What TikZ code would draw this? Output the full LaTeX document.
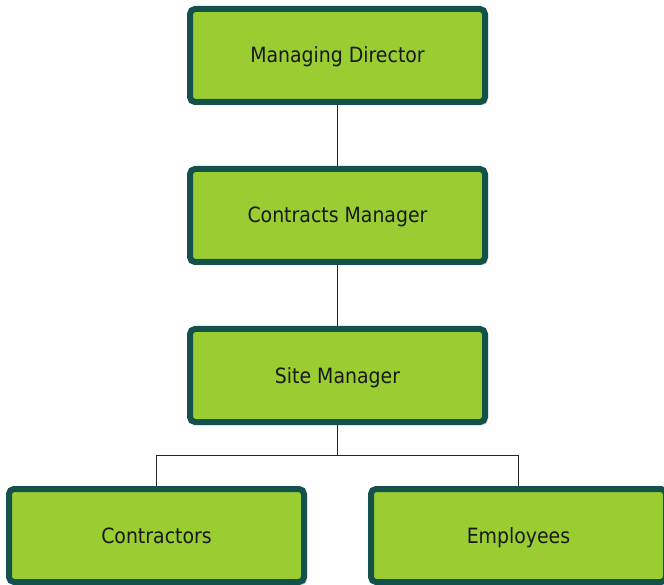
\documentclass[tikz,border=0pt]{standalone}
\usepackage{fontspec}
\setmainfont{DejaVu Sans Condensed}
\usetikzlibrary{calc, positioning, shadows}
\definecolor{boxfill}{HTML}{9ACD32}
\definecolor{boxline}{HTML}{13514A}
\tikzset{
  box/.style={rectangle,draw=boxline,fill=boxfill,line width=6pt,rounded corners=5pt,
    minimum width=295pt,minimum height=93pt,align=center,font=\fontsize{21}{24}\selectfont,
    text height=15pt,text depth=0pt,
    text=black!90,drop shadow={shadow xshift=3pt,shadow yshift=-3pt,opacity=0.3,fill=black!60}},
  link/.style={draw=black!85,line width=1.8pt}
}
\begin{document}
\begin{tikzpicture}[node distance=61pt]
\useasboundingbox (0,0) rectangle (664pt,-585pt);
\node[box] (md) at (337.5pt,-55.5pt) {Managing Director};
\node[box, below=of md] (cm) {Contracts Manager};
\node[box, below=of cm] (sm) {Site Manager};
\node[box, below=of sm, xshift=-181pt] (con) {Contractors};
\node[box, below=of sm, xshift=181pt] (emp) {Employees};
\coordinate (split) at ($(sm.south)!0.5!(sm.south |- con.north)$);
\draw[link] (md) -- (cm);
\draw[link] (cm) -- (sm);
\draw[link] (sm.south) -- (split) -| (con.north);
\draw[link] (split) -| (emp.north);
\end{tikzpicture}
\end{document}
